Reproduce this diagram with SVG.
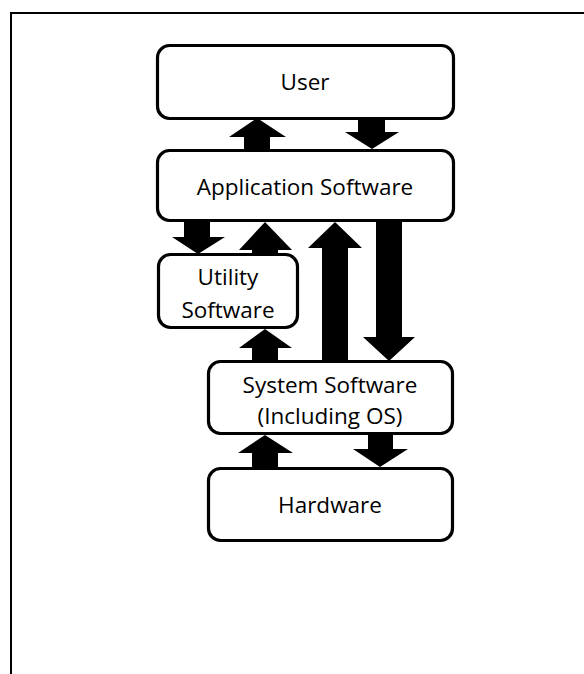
<svg xmlns="http://www.w3.org/2000/svg" width="584" height="674" viewBox="0 0 584 674">
<style>
.box{fill:#fff;stroke:#000;stroke-width:3.2}
.lbl{font-family:"Open Sans","Liberation Sans",sans-serif;font-size:22.5px;fill:#000;text-anchor:middle}
.arr{fill:#000;stroke:none}
</style>
<rect x="0" y="0" width="584" height="674" fill="#fff"/>
<path d="M11 674 V13 H584" fill="none" stroke="#000" stroke-width="2"/>
<g id="connectors">
<polygon class="arr" points="244,151 244,137 229,137 257,118 286,137 270,137 270,151"/>
<polygon class="arr" points="358,118 385,118 385,132 399,132 372,149 345,132 358,132"/>
<polygon class="arr" points="184,221 210,221 210,237 225,237 198,254 172,237 184,237"/>
<polygon class="arr" points="252,254 252,250 239,250 265,222 292,250 278,250 278,254"/>
<polygon class="arr" points="322,362 322,248 308,248 335,222 362,248 348,248 348,362"/>
<polygon class="arr" points="376,221 402,221 402,337 415,337 389,361 363,337 376,337"/>
<polygon class="arr" points="252,362 252,348 239,348 265,329 292,348 278,348 278,362"/>
<polygon class="arr" points="252,469 252,453 238,453 265,435 293,453 278,453 278,469"/>
<polygon class="arr" points="368,434 393,434 393,449 408,449 380,467 353,449 368,449"/>
</g>
<g id="user">
<rect class="box" x="157.5" y="45.5" width="296" height="73" rx="12"/>
<text class="lbl" x="305" y="90">User</text>
</g>
<g id="application">
<rect class="box" x="157.5" y="150.5" width="296" height="70" rx="12"/>
<text class="lbl" x="305" y="195">Application Software</text>
</g>
<g id="utility">
<rect class="box" x="158.5" y="254.5" width="139" height="73" rx="12"/>
<text class="lbl" x="228" y="285">Utility</text>
<text class="lbl" x="228" y="318">Software</text>
</g>
<g id="system">
<rect class="box" x="208.5" y="361.5" width="244" height="72" rx="12"/>
<text class="lbl" x="330" y="393">System Software</text>
<text class="lbl" x="330" y="424">(Including OS)</text>
</g>
<g id="hardware">
<rect class="box" x="208.5" y="468.5" width="244" height="72" rx="12"/>
<text class="lbl" x="330" y="513">Hardware</text>
</g>
</svg>
